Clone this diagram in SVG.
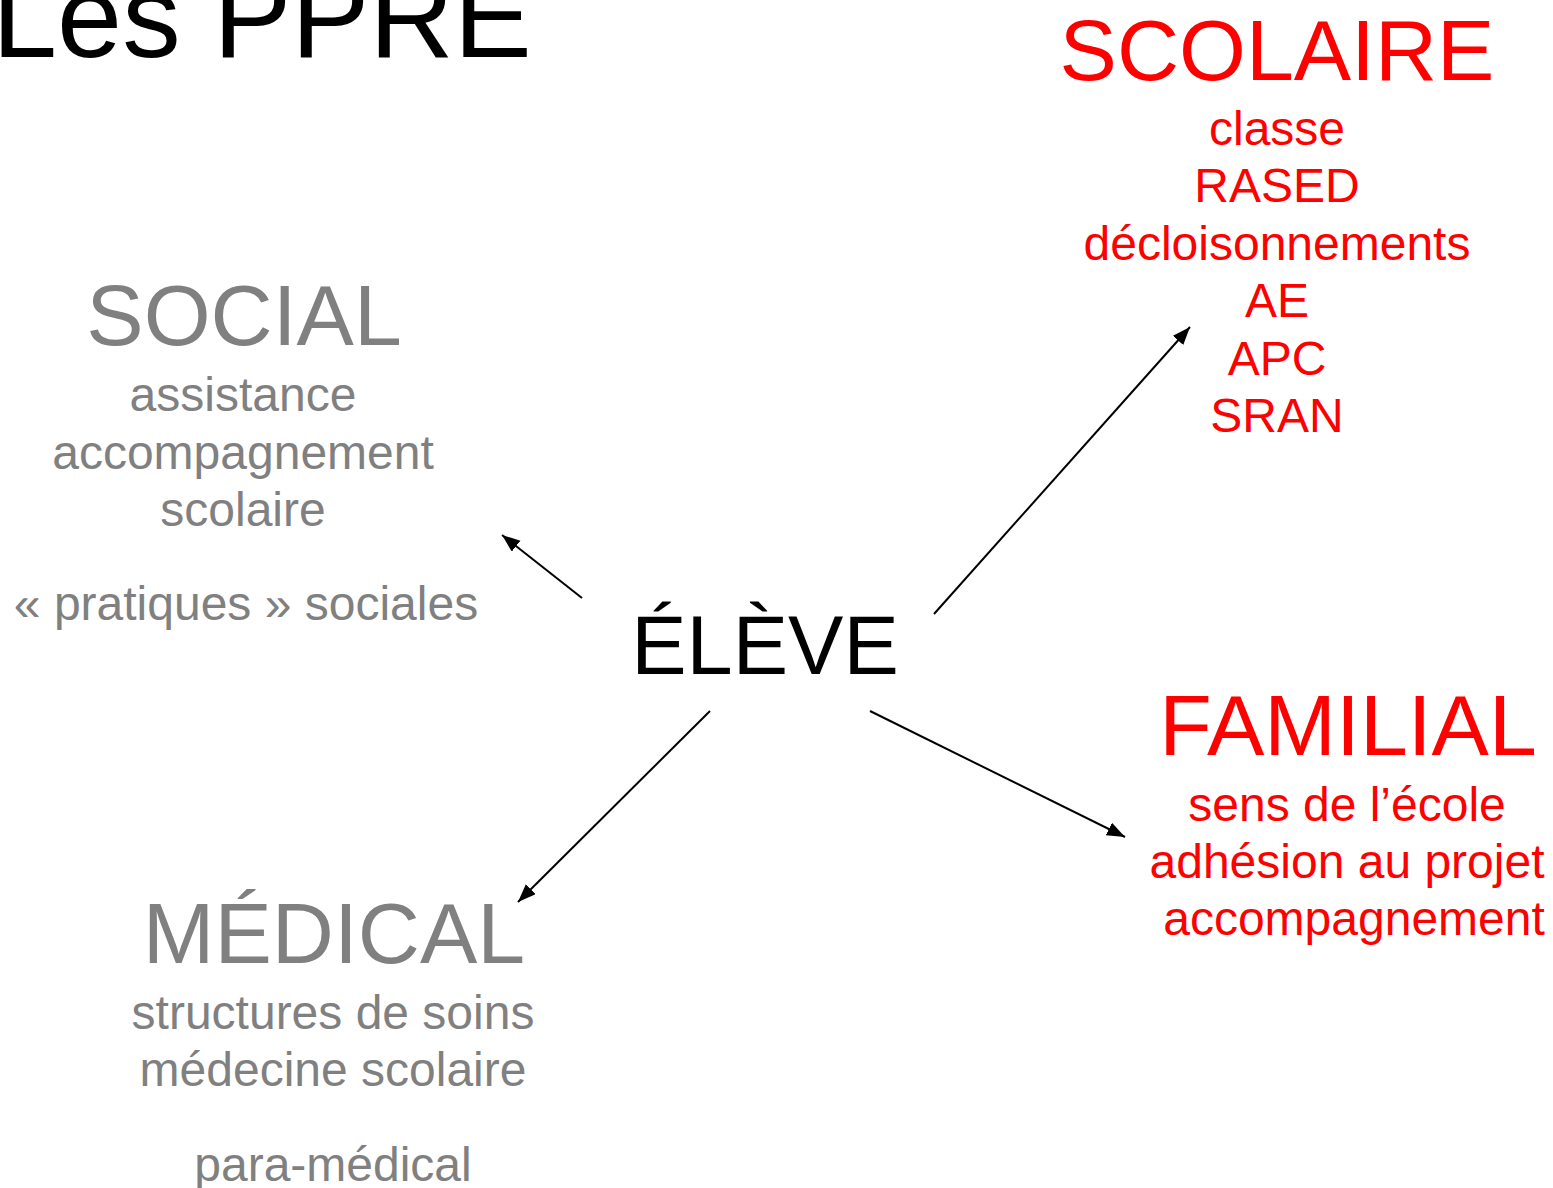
<svg xmlns="http://www.w3.org/2000/svg" width="1553" height="1188" viewBox="0 0 1553 1188">
<style>
text{font-family:"Liberation Sans",Arial,sans-serif;text-anchor:middle}
.big{font-size:86px}
.sm{font-size:48px}
.red{fill:#ff0000}
.gray{fill:#808080}
.blk{fill:#000000}
.conn{stroke:#000;stroke-width:2;fill:none;marker-end:url(#ah)}
</style>
<defs>
<marker id="ah" markerUnits="userSpaceOnUse" markerWidth="20" markerHeight="16" refX="18" refY="7" orient="auto">
<path d="M0,0 L18,7 L0,14 Z" fill="#000"/>
</marker>
</defs>
<g id="title"><text x="-8" y="57" class="blk" style="font-size:117px;text-anchor:start">Les PPRE</text></g>
<g id="scolaire" class="red">
<text x="1277" y="80" class="big">SCOLAIRE</text>
<text x="1277" y="145" class="sm">classe</text>
<text x="1277" y="202" class="sm">RASED</text>
<text x="1277" y="260" class="sm">décloisonnements</text>
<text x="1277" y="317" class="sm">AE</text>
<text x="1277" y="375" class="sm">APC</text>
<text x="1277" y="432" class="sm">SRAN</text>
</g>
<g id="social" class="gray">
<text x="244" y="345" class="big">SOCIAL</text>
<text x="243" y="411" class="sm">assistance</text>
<text x="243" y="469" class="sm">accompagnement</text>
<text x="243" y="526" class="sm">scolaire</text>
<text x="246" y="620" class="sm">« pratiques » sociales</text>
</g>
<g id="eleve"><text x="765" y="674" class="blk" style="font-size:83px">ÉLÈVE</text></g>
<g id="familial" class="red">
<text x="1348" y="755" class="big">FAMILIAL</text>
<text x="1347" y="821" class="sm">sens de l’école</text>
<text x="1347" y="878" class="sm">adhésion au projet</text>
<text x="1354" y="935" class="sm">accompagnement</text>
</g>
<g id="medical" class="gray">
<text x="334" y="963" class="big">MÉDICAL</text>
<text x="333" y="1029" class="sm">structures de soins</text>
<text x="333" y="1086" class="sm">médecine scolaire</text>
<text x="333" y="1181" class="sm">para-médical</text>
</g>
<g id="connectors">
<line x1="582" y1="598" x2="502" y2="535" class="conn"/>
<line x1="934" y1="614" x2="1190" y2="327" class="conn"/>
<line x1="710" y1="711" x2="518" y2="902" class="conn"/>
<line x1="870" y1="711" x2="1125" y2="837" class="conn"/>
</g>
</svg>
